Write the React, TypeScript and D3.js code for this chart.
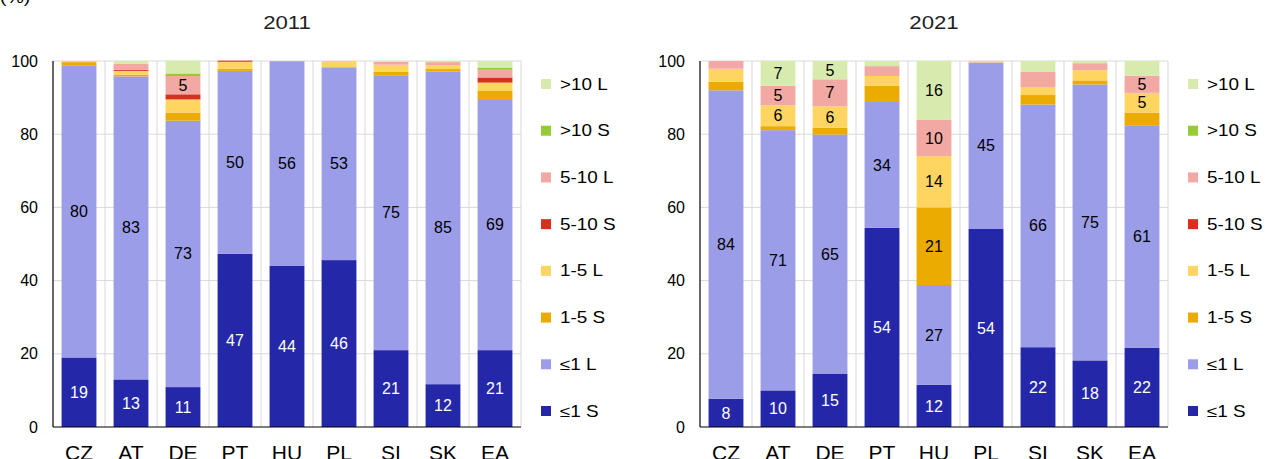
import * as d3 from "d3";

const categories = ["CZ", "AT", "DE", "PT", "HU", "PL", "SI", "SK", "EA"];
const seriesNames = ["≤1 S", "≤1 L", "1-5 S", "1-5 L", "5-10 S", "5-10 L", ">10 S", ">10 L"];
const seriesColors = ["#2427a8", "#9b9de8", "#ebab00", "#ffd561", "#d82f20", "#f2a8a3", "#97cb35", "#d8ebae"];
const yTicks = [0, 20, 40, 60, 80, 100];

// rows follow seriesNames (bottom to top), columns follow categories
const values2011 = [
  [19.0, 13.0, 10.9, 47.3, 44.0, 45.6, 21.0, 11.7, 21.0],
  [79.7, 82.8, 72.8, 50.0, 55.8, 52.7, 75.1, 85.4, 68.6],
  [1.0, 0.5, 2.2, 0.6, 0.2, 0.0, 0.9, 0.7, 2.2],
  [0.3, 1.0, 3.6, 1.9, 0.0, 1.7, 2.0, 1.1, 2.3],
  [0.0, 0.3, 1.4, 0.3, 0.0, 0.0, 0.0, 0.0, 1.4],
  [0.0, 1.7, 5.0, 0.0, 0.0, 0.0, 0.8, 0.8, 2.1],
  [0.0, 0.0, 0.7, 0.0, 0.0, 0.0, 0.0, 0.0, 0.6],
  [0.0, 0.7, 3.5, 0.0, 0.0, 0.0, 0.2, 0.3, 1.8],
];

const values2021 = [
  [7.7, 10.0, 14.6, 54.4, 11.5, 54.1, 21.8, 18.2, 21.6],
  [84.3, 71.1, 65.3, 34.4, 27.3, 45.5, 66.3, 75.4, 60.7],
  [2.3, 1.1, 1.9, 4.4, 21.2, 0.0, 2.6, 1.1, 3.6],
  [3.6, 5.7, 5.8, 2.7, 14.0, 0.4, 2.2, 2.8, 5.4],
  [0.0, 0.0, 0.0, 0.0, 0.0, 0.0, 0.0, 0.0, 0.0],
  [2.1, 5.3, 7.4, 2.7, 9.9, 0.0, 4.1, 1.9, 4.7],
  [0.0, 0.0, 0.0, 0.0, 0.0, 0.0, 0.0, 0.0, 0.0],
  [0.0, 6.8, 5.0, 1.4, 16.1, 0.0, 3.0, 0.6, 4.0],
];

const FONT = "'Liberation Sans', Arial, sans-serif";
const top = 61;
const bottom = 427;

function Panel({ title, values, x0, x1, legendX }: { title: string; values: number[][]; x0: number; x1: number; legendX: number }) {
  const x = d3.scaleBand<string>().domain(categories).range([x0, x1]).paddingInner(0.33).paddingOuter(0.165);
  const y = d3.scaleLinear().domain([0, 100]).range([bottom, top]);
  const step = x.step();

  // build stacked rows: one object per category
  const rows = categories.map((c, j) => {
    const r: Record<string, number | string> = { cat: c };
    seriesNames.forEach((s, i) => (r[s] = values[i][j]));
    return r;
  });
  const stacked = d3.stack<Record<string, number | string>>().keys(seriesNames)(rows);

  const legendY = d3.scalePoint<string>().domain([...seriesNames].reverse()).range([84, 411]);

  return (
    <g>
      <text transform={`translate(${(x0 + x1) / 2},29) scale(1.2,1)`} textAnchor="middle" fontSize={18.5} fill="#222">
        {title}
      </text>
      {yTicks.map((t) => (
        <g key={t}>
          {t > 0 && <line x1={x0} x2={x1} y1={y(t)} y2={y(t)} stroke="#d9d9d9" strokeWidth={1} />}
          <text x={x0 - 15} y={y(t)} dy="0.35em" textAnchor="end" fontSize={16} fill="#000">
            {t}
          </text>
        </g>
      ))}
      {categories.map((c, k) => (
        <line key={c} x1={x0 + step * (k + 1)} x2={x0 + step * (k + 1)} y1={top} y2={bottom} stroke="#d9d9d9" strokeWidth={1} />
      ))}
      {stacked.map((layer, i) =>
        layer.map((d, j) => {
          const h = y(d[0]) - y(d[1]);
          if (h <= 0) return null;
          return (
            <rect key={`${i}-${j}`} x={x(categories[j])} y={y(d[1])} width={x.bandwidth()} height={h} fill={seriesColors[i]} />
          );
        })
      )}
      {stacked.map((layer, i) =>
        layer.map((d, j) => {
          const v = d[1] - d[0];
          if (Math.round(v) < 5) return null;
          return (
            <text
              key={`l${i}-${j}`}
              x={(x(categories[j]) ?? 0) + x.bandwidth() / 2}
              y={y((d[0] + d[1]) / 2)}
              dy="0.35em"
              textAnchor="middle"
              fontSize={16}
              fill={i === 0 ? "#fff" : "#000"}
            >
              {Math.round(v)}
            </text>
          );
        })
      )}
      <line x1={x0} x2={x0} y1={top} y2={bottom} stroke="#000" strokeWidth={1.2} />
      <line x1={x0} x2={x1} y1={bottom} y2={bottom} stroke="#000" strokeWidth={1.2} />
      {categories.map((c) => (
        <text key={c} x={(x(c) ?? 0) + x.bandwidth() / 2} y={460} textAnchor="middle" fontSize={21} fill="#000">
          {c}
        </text>
      ))}
      {seriesNames.map((s, i) => (
        <g key={s} transform={`translate(${legendX},${legendY(s)})`}>
          <rect x={0} y={-5} width={10} height={10} fill={seriesColors[i]} />
          <text transform="translate(19,0) scale(1.18,1)" dy="0.35em" fontSize={16} fill="#000">
            {s}
          </text>
        </g>
      ))}
    </g>
  );
}

export default function App() {
  return (
    <svg
      width={1265}
      height={459}
      style={{ position: "absolute", left: 0, top: 0, background: "#fff" }}
      fontFamily={FONT}
    >
      <text transform="translate(0,3) scale(1.15,1)" fontSize={17} fill="#000">
        (%)
      </text>
      <Panel title="2011" values={values2011} x0={53} x1={521} legendX={541} />
      <Panel title="2021" values={values2021} x0={700} x1={1168} legendX={1188} />
    </svg>
  );
}
